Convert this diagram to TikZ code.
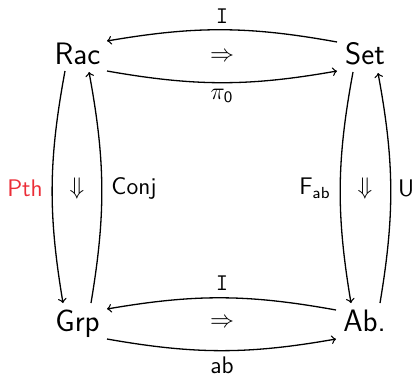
\documentclass[tikz,border=0pt]{standalone}
\usepackage{amsmath}
\renewcommand{\familydefault}{\sfdefault}
\begin{document}
\begin{tikzpicture}[x=0.5pt,y=0.5pt,
  obj/.style={anchor=base,inner sep=0pt,font=\fontsize{15.5}{18}\selectfont\sffamily},
  lab/.style={inner sep=0pt,font=\fontsize{12}{14}\selectfont\sffamily},
  arr/.style={->,line width=0.65pt,bend right=10}]
\useasboundingbox (0,0) rectangle (416,376);
\definecolor{pthred}{RGB}{235,45,55}
\node[obj] (Rac) at (77.5,311.7) {Rac};
\node[obj] (Set) at (365,312) {Set};
\node[obj] (Grp) at (77.5,44.3) {Grp};
\node[obj] (Ab) at (364.5,44.3) {Ab.};
% top
\draw[arr] ([shift={(-28,22)}]Set.base) to ([shift={(29.5,23.3)}]Rac.base);
\draw[arr] ([shift={(29.5,-6.7)}]Rac.base) to ([shift={(-28,-7)}]Set.base);
% bottom
\draw[arr] ([shift={(-28.5,21.7)}]Ab.base) to ([shift={(29.5,22.7)}]Grp.base);
\draw[arr] ([shift={(29.5,-7.3)}]Grp.base) to ([shift={(-28.5,-7.3)}]Ab.base);
% left
\draw[arr] ([shift={(-12.5,-6.7)}]Rac.base) to ([shift={(-14.5,28.7)}]Grp.base);
\draw[arr] ([shift={(13.5,28.7)}]Grp.base) to ([shift={(11.5,-7.7)}]Rac.base);
% right
\draw[arr] ([shift={(-12,-8)}]Set.base) to ([shift={(-13.5,28.7)}]Ab.base);
\draw[arr] ([shift={(15.5,28.7)}]Ab.base) to ([shift={(13,-9)}]Set.base);
% labels
\node[lab] (lI1) at (222,360) {$\mathtt{I}$};
\node[lab] (lpi) at (222,280) {$\pi_{\mathsf{0}}$};
\node[lab] (lR1) at (222,319) {$\Rightarrow$};
\node[lab] (lI2) at (222,93) {$\mathtt{I}$};
\node[lab] (lab) at (222,11) {ab};
\node[lab] (lR2) at (222,53) {$\Rightarrow$};
\node[lab,text=pthred] (lPth) at (25,188) {Pth};
\node[lab] (lConj) at (134,188) {Conj};
\node[lab] (lD1) at (77,188) {$\Downarrow$};
\node[lab] (lF) at (315,188) {$\mathsf{F}_{\mathsf{ab}}$};
\node[lab] (lD2) at (365,188) {$\Downarrow$};
\node[lab] (lU) at (406,188) {U};
\end{tikzpicture}
\end{document}
